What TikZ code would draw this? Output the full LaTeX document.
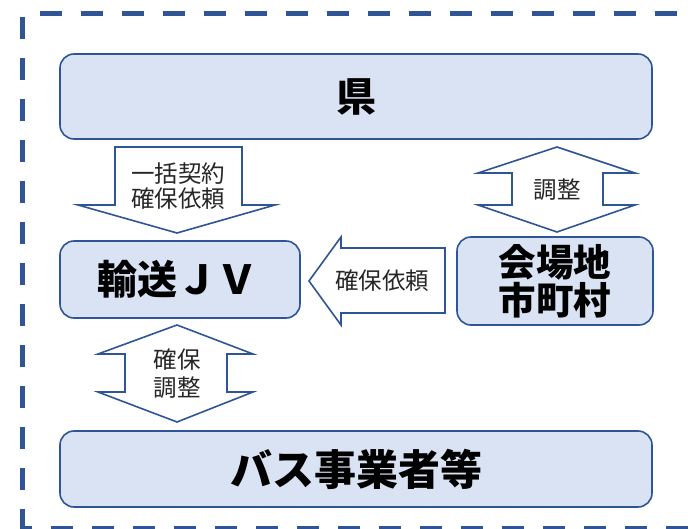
\documentclass[tikz,border=0pt]{standalone}
\usepackage{fontspec}
\setmainfont{Noto Sans CJK JP}
\usetikzlibrary{calc}
\definecolor{boxblue}{HTML}{2F5597}
\definecolor{boxfill}{HTML}{DAE3F3}
\begin{document}
\begin{tikzpicture}[x=1pt,y=-1pt,
  boxnode/.style={draw=boxblue, fill=boxfill, line width=1.6pt, rounded corners=14pt, inner sep=0pt, align=center, font=\bfseries},
  blockarrow/.style={draw=boxblue, fill=white, line width=1.6pt, line join=miter},
  lbl/.style={inner sep=0pt, align=center, text=black!85, font=\fontsize{23.5}{26}\selectfont},
  frame/.style={draw=boxblue, line width=4.5pt}
]
\useasboundingbox (0,0) rectangle (690,529);
% dashed frame
\draw[frame, dash pattern=on 22pt off 19pt, dash phase=24pt] (22.5,13.5) -- (700,13.5);
\draw[frame, dash pattern=on 22pt off 19pt, dash phase=37.5pt] (22.5,13.5) -- (22.5,540);
\draw[frame, dash pattern=on 22pt off 19pt, dash phase=12.5pt] (22.5,528.5) -- (700,528.5);

% boxes
\node[boxnode, minimum width=592pt, minimum height=85pt, font=\bfseries\fontsize{40}{44}\selectfont] (ken) at (356,96.5) {県};
\node[boxnode, minimum width=240pt, minimum height=77pt, font=\bfseries\fontsize{40}{44}\selectfont] (jv) at (180,279.5) {輸送ＪＶ\hspace{5pt}};
\node[boxnode, minimum width=196pt, minimum height=88pt, font=\bfseries\fontsize{37.5}{38}\selectfont] (city) at (555,281) {会場地\\市町村};
\node[boxnode, minimum width=592pt, minimum height=76pt, font=\bfseries\fontsize{42}{46}\selectfont] (bus) at (356,469) {バス事業者等};

% block arrows
\draw[blockarrow] (115,147) -- (242,147) -- (242,205) -- (275,205) -- (177,233) -- (78,205) -- (115,205) -- cycle;
\node[lbl, font=\fontsize{23.5}{25}\selectfont] (a1) at (178,186) {一括契約\\確保依頼};

\draw[blockarrow] (557,147) -- (635,173) -- (603,173) -- (603,205) -- (635,205) -- (557,232) -- (478,205) -- (512,205) -- (512,173) -- (478,173) -- cycle;
\node[lbl] (a2) at (557,190) {調整};

\draw[blockarrow] (309,281) -- (341,237) -- (341,248) -- (445,248) -- (445,313) -- (341,313) -- (341,325) -- cycle;
\node[lbl] (a3) at (382,281) {確保依頼};

\draw[blockarrow] (177,325) -- (253,354) -- (227,354) -- (227,392) -- (253,392) -- (177,422) -- (98,392) -- (125,392) -- (125,354) -- (98,354) -- cycle;
\node[lbl, font=\fontsize{23.5}{28}\selectfont] (a4) at (177,374) {確保\\調整};
\end{tikzpicture}
\end{document}
